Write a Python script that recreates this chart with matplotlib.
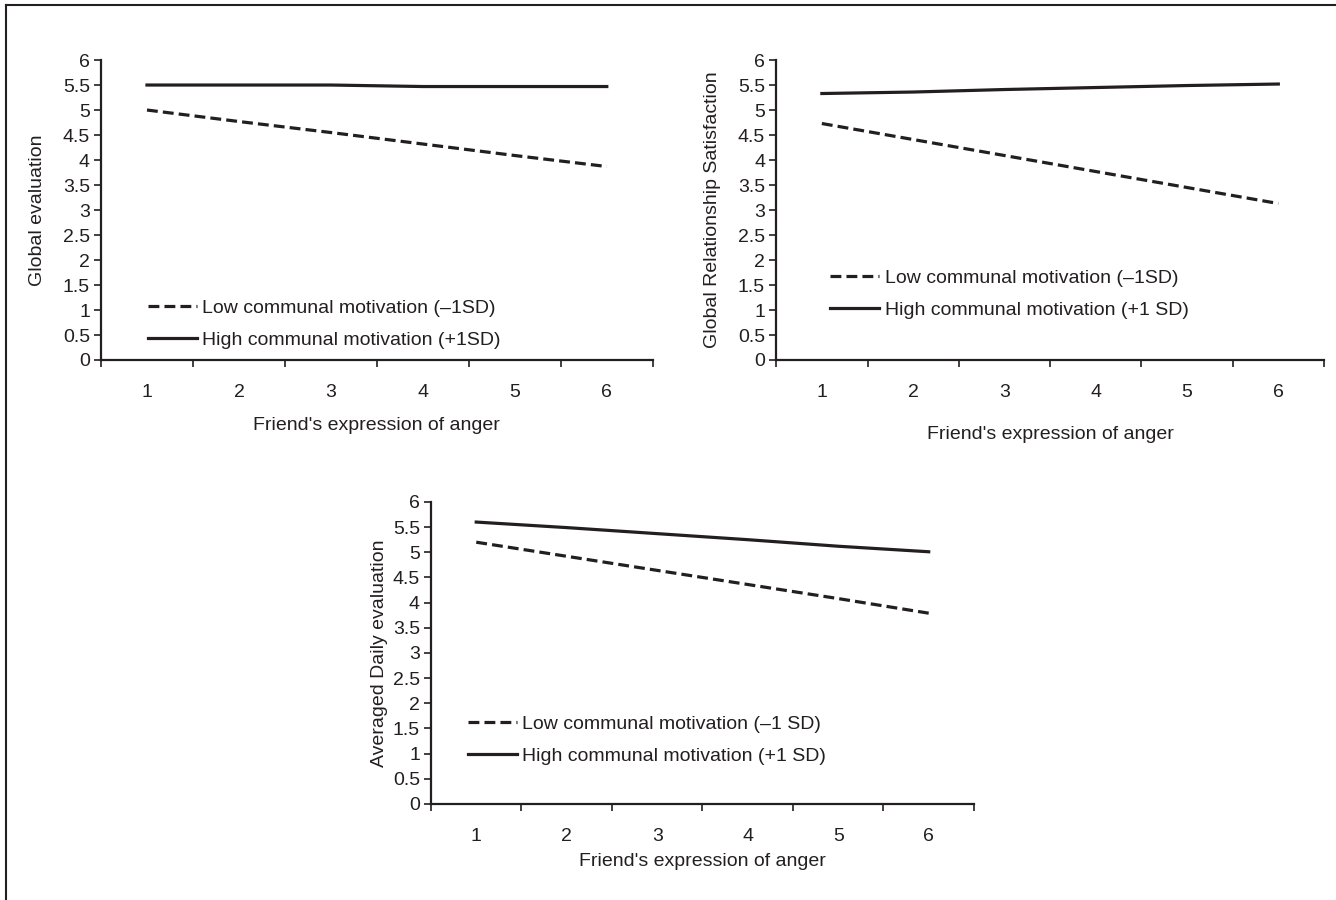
import matplotlib
matplotlib.use("Agg")
import matplotlib.pyplot as plt
from matplotlib.lines import Line2D

plt.rcParams['font.family'] = ['Liberation Sans', 'DejaVu Sans']
plt.rcParams['font.size'] = 14

anger = [1, 2, 3, 4, 5, 6]

glob_low = [5.0, 4.77, 4.55, 4.32, 4.09, 3.87]
glob_high = [5.5, 5.5, 5.5, 5.47, 5.47, 5.47]

sat_low = [4.73, 4.41, 4.09, 3.77, 3.45, 3.13]
sat_high = [5.33, 5.36, 5.41, 5.45, 5.49, 5.52]

daily_low = [5.2, 4.92, 4.64, 4.36, 4.08, 3.79]
daily_high = [5.6, 5.49, 5.37, 5.25, 5.12, 5.01]

y_ticks = [0, 0.5, 1, 1.5, 2, 2.5, 3, 3.5, 4, 4.5, 5, 5.5, 6]
y_ticklabels = ["0", "0.5", "1", "1.5", "2", "2.5", "3", "3.5", "4", "4.5", "5", "5.5", "6"]

ink = "#231f20"

fig = plt.figure(figsize=(13.36, 9), dpi=100)


def panel(rect, low, high, ylabel, low_lab, high_lab, leg_xy, ypad, xpad):
    ax = fig.add_axes(rect)
    ax.plot(anger, low, color=ink, lw=2.3, linestyle=(0, (3.4, 1.6)), label=low_lab)
    ax.plot(anger, high, color=ink, lw=2.3, label=high_lab)
    ax.set_xlim(0.5, 6.5)
    ax.set_ylim(0, 6)
    ax.spines['top'].set_visible(False)
    ax.spines['right'].set_visible(False)
    for s in ['left', 'bottom']:
        ax.spines[s].set_linewidth(1.6)
        ax.spines[s].set_color(ink)
    ax.set_yticks(y_ticks)
    ax.set_yticklabels(y_ticklabels)
    # category axis: tick marks between categories, labels in the middle
    ax.set_xticks([0.5, 1.5, 2.5, 3.5, 4.5, 5.5, 6.5])
    ax.set_xticklabels([])
    ax.set_xticks(anger, minor=True)
    ax.set_xticklabels([str(a) for a in anger], minor=True)
    ax.tick_params(axis='x', which='major', length=5, width=1.2, color=ink, direction='out')
    ax.tick_params(axis='x', which='minor', length=0, pad=17, labelcolor=ink)
    ax.tick_params(axis='y', length=5, width=1.2, color=ink, pad=3, labelcolor=ink)
    ax.set_xlabel("Friend's expression of anger", color=ink, labelpad=xpad)
    ax.set_ylabel(ylabel, color=ink, labelpad=ypad)
    ax.legend(loc='center left', bbox_to_anchor=leg_xy, frameon=False,
              handlelength=2.5, handletextpad=0.3, labelspacing=0.75,
              borderpad=0, borderaxespad=0, fontsize=14, labelcolor=ink)
    return ax


panel([0.0756, 0.6, 0.413, 0.3333], glob_low, glob_high, "Global evaluation",
      "Low communal motivation (\u20131SD)", "High communal motivation (+1SD)", (0.085, 0.12), 12, 12)
panel([0.581, 0.6, 0.410, 0.3333], sat_low, sat_high, "Global Relationship Satisfaction",
      "Low communal motivation (\u20131SD)", "High communal motivation (+1 SD)", (0.0985, 0.22), 12, 18)
panel([0.3226, 0.1067, 0.4064, 0.3356], daily_low, daily_high, "Averaged Daily evaluation",
      "Low communal motivation (\u20131 SD)", "High communal motivation (+1 SD)", (0.068, 0.212), 3, 6)

# outer frame (left and top edges)
fig.add_artist(Line2D([0.0045, 0.0045], [0, 0.994], color=ink, lw=1.5, transform=fig.transFigure))
fig.add_artist(Line2D([0.0045, 1.0], [0.994, 0.994], color=ink, lw=1.5, transform=fig.transFigure))

fig.savefig("out.png", dpi=100)
